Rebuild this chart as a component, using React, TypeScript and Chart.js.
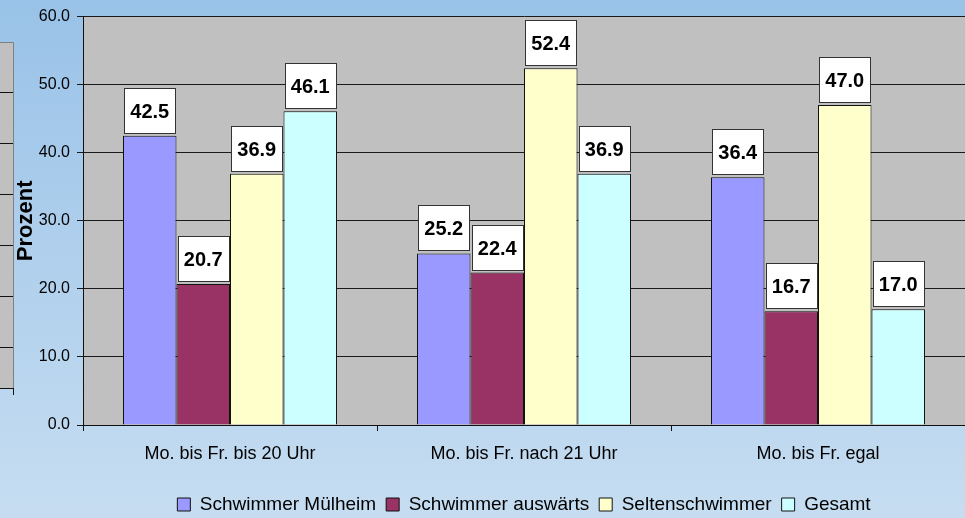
import React, { useEffect, useRef } from "react";
import { Chart, registerables } from "chart.js";

Chart.register(...registerables);

const categories = ["Mo. bis Fr. bis 20 Uhr", "Mo. bis Fr. nach 21 Uhr", "Mo. bis Fr. egal"];
const seriesNames = ["Schwimmer Mülheim", "Schwimmer auswärts", "Seltenschwimmer", "Gesamt"];
const schwimmerMuelheim = [42.5, 25.2, 36.4];
const schwimmerAuswaerts = [20.7, 22.4, 16.7];
const seltenschwimmer = [36.9, 52.4, 47.0];
const gesamt = [46.1, 36.9, 17.0];
const seriesColors = ["#9999FF", "#993366", "#FFFFCC", "#CCFFFF"];
const yAxisTitle = "Prozent";
const yMin = 0;
const yMax = 60;
const yStep = 10;

const FONT = "'Liberation Sans', Arial, sans-serif";

const backgroundPlugin = {
  id: "bgPlugin",
  beforeDraw(chart: any) {
    const { ctx, width, height, chartArea } = chart;
    ctx.save();
    const g = ctx.createLinearGradient(0, 0, 0, height);
    g.addColorStop(0, "#99C2E8");
    g.addColorStop(1, "#C6DDF1");
    ctx.fillStyle = g;
    ctx.fillRect(0, 0, width, height);
    // clipped remnant of a neighbouring chart at the left edge
    ctx.fillStyle = "#C0C0C0";
    ctx.fillRect(0, 42, 13, 346);
    ctx.strokeStyle = "#808080";
    ctx.lineWidth = 1;
    ctx.beginPath();
    ctx.moveTo(0, 42.5);
    ctx.lineTo(13.5, 42.5);
    ctx.lineTo(13.5, 388);
    ctx.stroke();
    ctx.strokeStyle = "#111";
    ctx.beginPath();
    [92, 143, 194, 245, 296, 347, 388].forEach((yy) => {
      ctx.moveTo(0, yy + 0.5);
      ctx.lineTo(13, yy + 0.5);
    });
    ctx.moveTo(13.5, 388);
    ctx.lineTo(13.5, 395);
    ctx.stroke();
    // plot area
    ctx.fillStyle = "#C0C0C0";
    ctx.fillRect(chartArea.left, chartArea.top, chartArea.right - chartArea.left, chartArea.bottom - chartArea.top);
    ctx.restore();
  },
};

const labelPlugin = {
  id: "valueLabels",
  afterDatasetsDraw(chart: any) {
    const { ctx } = chart;
    ctx.save();
    ctx.font = `bold 20px ${FONT}`;
    ctx.textAlign = "center";
    ctx.textBaseline = "middle";
    chart.data.datasets.forEach((ds: any, di: number) => {
      const meta = chart.getDatasetMeta(di);
      meta.data.forEach((bar: any, i: number) => {
        const v = ds.data[i] as number;
        const text = v.toFixed(1);
        const w = Math.round(ctx.measureText(text).width + 12);
        const h = 45;
        const x = Math.round(bar.x - w / 2) + 0.5;
        const y = Math.round(bar.y - 3 - h) + 0.5;
        ctx.fillStyle = "#FFFFFF";
        ctx.fillRect(x, y, w, h);
        ctx.strokeStyle = "#333333";
        ctx.lineWidth = 1;
        ctx.strokeRect(x, y, w, h);
        ctx.fillStyle = "#000000";
        ctx.fillText(text, bar.x, y + h / 2 + 1);
      });
    });
    ctx.restore();
  },
};

export default function App() {
  const canvasRef = useRef<HTMLCanvasElement | null>(null);

  useEffect(() => {
    document.body.style.margin = "0";
    const canvas = canvasRef.current;
    if (!canvas) return;
    const seriesData = [schwimmerMuelheim, schwimmerAuswaerts, seltenschwimmer, gesamt];
    const chart = new Chart(canvas, {
      type: "bar",
      data: {
        labels: categories,
        datasets: seriesNames.map((name, i) => ({
          label: name,
          data: seriesData[i],
          backgroundColor: seriesColors[i],
          borderColor: "#111111",
          borderWidth: 1,
          barPercentage: 1,
          categoryPercentage: 0.728,
        })),
      },
      options: {
        responsive: false,
        devicePixelRatio: 1,
        animation: false,
        layout: { padding: { top: 16, left: 0, right: 0, bottom: -6 } },
        plugins: {
          legend: {
            position: "bottom",
            fullSize: false,
            labels: {
              boxWidth: 13,
              boxHeight: 13,
              padding: 10,
              color: "#000",
              font: { family: FONT, size: 19 },
            },
          },
          tooltip: { enabled: false },
        },
        scales: {
          x: {
            grid: {
              offset: true,
              drawOnChartArea: false,
              drawTicks: true,
              tickLength: 6,
              color: "#111",
            },
            border: { color: "#111", width: 1 },
            ticks: {
              color: "#000",
              padding: 12,
              maxRotation: 0,
              font: { family: FONT, size: 18 },
            },
            afterFit(scale: any) {
              scale.height = 60;
            },
          },
          y: {
            min: yMin,
            max: yMax,
            ticks: {
              stepSize: yStep,
              color: "#000",
              padding: 7,
              font: { family: FONT, size: 16 },
              callback: (v: any) => Number(v).toFixed(1),
            },
            grid: { color: "#1a1a1a", tickLength: 6, drawTicks: true },
            border: { color: "#111", width: 1 },
            title: {
              display: true,
              text: yAxisTitle,
              color: "#000",
              font: { family: FONT, size: 22, weight: "bold" },
              padding: { top: 13, bottom: 0 },
            },
            afterFit(scale: any) {
              scale.width = 83;
            },
          },
        },
      },
      plugins: [backgroundPlugin, labelPlugin],
    } as any);
    return () => chart.destroy();
  }, []);

  return (
    <div style={{ position: "absolute", left: 0, top: 0, width: 965, height: 518 }}>
      <canvas ref={canvasRef} width={965} height={518} />
    </div>
  );
}
